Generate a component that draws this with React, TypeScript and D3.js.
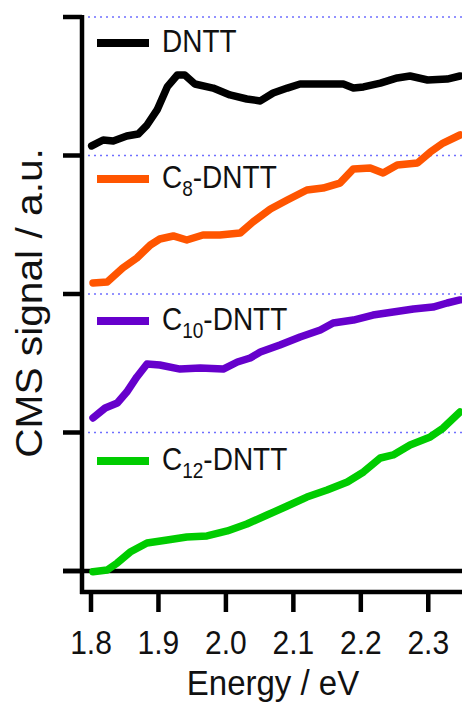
import * as d3 from 'd3';

// energy (eV) values
const dnttE = [1.801, 1.818, 1.833, 1.853, 1.870, 1.883, 1.898, 1.913, 1.928, 1.939, 1.954, 1.981, 2.006, 2.031, 2.051, 2.070, 2.091, 2.110, 2.140, 2.174, 2.189, 2.204, 2.229, 2.254, 2.273, 2.299, 2.328, 2.347];
const dnttS = [0.069, 0.112, 0.105, 0.141, 0.155, 0.220, 0.329, 0.495, 0.581, 0.581, 0.516, 0.487, 0.437, 0.408, 0.394, 0.451, 0.487, 0.516, 0.516, 0.516, 0.487, 0.495, 0.523, 0.560, 0.574, 0.545, 0.552, 0.574];

const c8E = [1.803, 1.824, 1.847, 1.868, 1.888, 1.902, 1.922, 1.942, 1.966, 1.991, 2.021, 2.040, 2.066, 2.091, 2.120, 2.144, 2.169, 2.189, 2.214, 2.233, 2.254, 2.284, 2.303, 2.322, 2.347];
const c8S = [0.079, 0.087, 0.188, 0.260, 0.354, 0.397, 0.419, 0.390, 0.426, 0.426, 0.440, 0.520, 0.614, 0.679, 0.751, 0.765, 0.801, 0.903, 0.910, 0.874, 0.931, 0.946, 1.025, 1.090, 1.148];

const c10E = [1.803, 1.821, 1.839, 1.853, 1.868, 1.883, 1.902, 1.932, 1.962, 1.996, 2.017, 2.036, 2.051, 2.080, 2.110, 2.140, 2.159, 2.189, 2.218, 2.248, 2.278, 2.307, 2.328, 2.347];
const c10S = [0.105, 0.177, 0.213, 0.292, 0.401, 0.495, 0.487, 0.458, 0.466, 0.458, 0.509, 0.538, 0.581, 0.632, 0.690, 0.740, 0.791, 0.812, 0.848, 0.870, 0.892, 0.906, 0.935, 0.957];

const c12E = [1.803, 1.824, 1.839, 1.858, 1.883, 1.913, 1.942, 1.972, 2.002, 2.031, 2.061, 2.091, 2.120, 2.150, 2.180, 2.204, 2.229, 2.248, 2.273, 2.303, 2.322, 2.347];
const c12S = [-0.005, 0.007, 0.058, 0.137, 0.202, 0.224, 0.245, 0.253, 0.289, 0.339, 0.404, 0.469, 0.534, 0.585, 0.643, 0.715, 0.816, 0.838, 0.910, 0.968, 1.032, 1.148];

const seriesNames = ['DNTT', 'C8-DNTT', 'C10-DNTT', 'C12-DNTT'];
const seriesColors = ['#000000', '#ff5500', '#6600cc', '#00cc00'];
const seriesOffsets = [3, 2, 1, 0];
const xTicks = [1.8, 1.9, 2.0, 2.1, 2.2, 2.3];
const yTicks = [0, 1, 2, 3, 4];

const W = 462, H = 702;
const FONT = '"Liberation Sans", Arial, sans-serif';

export default function App() {
  const x = d3.scaleLinear().domain([1.8, 2.35]).range([91, 462]);
  const y = d3.scaleLinear().domain([0, 4]).range([571, 17]);
  const axisX = 82, axisBottom = 592;

  const series = [
    { e: dnttE, s: dnttS },
    { e: c8E, s: c8S },
    { e: c10E, s: c10S },
    { e: c12E, s: c12S },
  ];
  const line = d3.line<[number, number]>().x(d => x(d[0])).y(d => y(d[1]));

  // legend baselines, just below each grid line
  const legendY = [y(4) + 35, y(3) + 32.5, y(2) + 36, y(1) + 37.5];

  return (
    <svg width={W} height={H} style={{ position: 'absolute', left: 0, top: 0, background: '#fff' }} fontFamily={FONT}>
      {/* dotted grid lines */}
      {yTicks.filter(t => t > 0).map(t => (
        <line key={'g' + t} x1={88} x2={W} y1={y(t)} y2={y(t)} stroke="#6f6fff" strokeWidth={1.5} strokeDasharray="2,4" />
      ))}
      {/* zero line */}
      <line x1={63} x2={W} y1={y(0)} y2={y(0)} stroke="#000" strokeWidth={4.5} />
      {/* curves */}
      {series.map((sr, i) => (
        <path key={'c' + i} d={line(sr.e.map((e, j) => [e, sr.s[j] + seriesOffsets[i]] as [number, number])) || ''}
          fill="none" stroke={seriesColors[i]} strokeWidth={7.5} strokeLinejoin="round" strokeLinecap="round" />
      ))}
      {/* left axis */}
      <line x1={axisX} x2={axisX} y1={y(4) - 2} y2={axisBottom + 2} stroke="#000" strokeWidth={4.5} />
      {yTicks.map(t => (
        <line key={'yt' + t} x1={63} x2={axisX} y1={y(t)} y2={y(t)} stroke="#000" strokeWidth={4.5} />
      ))}
      {/* bottom axis */}
      <line x1={axisX - 2} x2={W} y1={axisBottom} y2={axisBottom} stroke="#000" strokeWidth={4.5} />
      {xTicks.map(t => (
        <g key={'xt' + t}>
          <line x1={x(t)} x2={x(t)} y1={axisBottom} y2={612} stroke="#000" strokeWidth={4.5} />
          <text transform={`translate(${x(t)},654) scale(1,1.1)`} textAnchor="middle" fontSize={30} fill="#111">{t.toFixed(1)}</text>
        </g>
      ))}
      <text transform="translate(273,695) scale(1,1.05)" textAnchor="middle" fontSize={33} fill="#111">Energy / eV</text>
      <text transform="translate(42,303) rotate(-90) scale(1.1,1)" textAnchor="middle" fontSize={37} fill="#111">CMS signal / a.u.</text>
      {/* legend */}
      {seriesNames.map((name, i) => {
        const ly = legendY[i];
        const m = name.match(/^C(\d+)-(.*)$/);
        return (
          <g key={'l' + i}>
            <line x1={97} x2={149} y1={ly - 9} y2={ly - 9} stroke={seriesColors[i]} strokeWidth={8} />
            <text transform={`translate(162,${ly}) scale(1,1.12)`} fontSize={28} fill="#111">
              {m ? (
                <>
                  C<tspan fontSize={19} dy={7}>{m[1]}</tspan><tspan dy={-7}>-{m[2]}</tspan>
                </>
              ) : name}
            </text>
          </g>
        );
      })}
    </svg>
  );
}
